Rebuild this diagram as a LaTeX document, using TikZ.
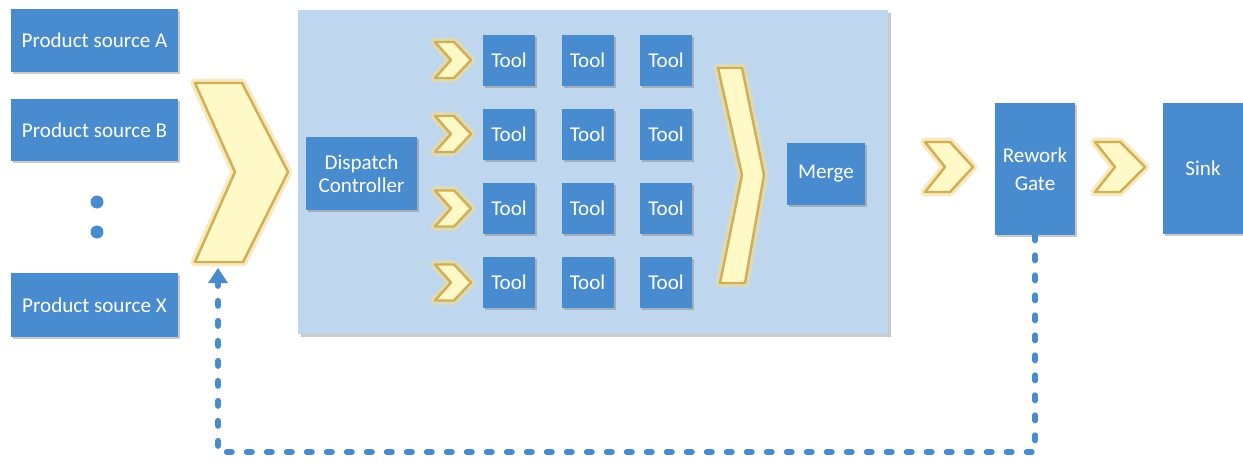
\documentclass[tikz,border=0pt]{standalone}
\usepackage{fontspec}
\setmainfont{Carlito}
\usetikzlibrary{shadows,arrows.meta}
\definecolor{boxblue}{RGB}{72,140,207}
\definecolor{panelblue}{RGB}{190,215,238}
\definecolor{chevfill}{RGB}{255,249,200}
\definecolor{chevedge}{RGB}{210,174,84}
\definecolor{chevglowc}{RGB}{240,220,150}
\newcommand\drawchev[1]{%
  \draw[chevglowstyle] #1;
  \draw[chevstyle] #1;}
\tikzset{
  box/.style={fill=boxblue, text=white, inner sep=0pt, align=center,
    font=\fontsize{12pt}{14pt}\selectfont,
    drop shadow={shadow xshift=0.04cm, shadow yshift=-0.04cm, opacity=0.35, fill=black!60}},
  chevstyle/.style={fill=chevfill, draw=chevedge, line width=1.4pt, line join=round},
  chevglowstyle/.style={draw=chevglowc, line width=5pt, line join=round, opacity=0.6},
  loopline/.style={draw=boxblue, line width=0.12cm, line cap=round,
    dash pattern=on 0.1cm off 0.3cm},
}
\begin{document}
\begin{tikzpicture}[x=0.02cm, y=-0.02cm]
\useasboundingbox (0,0) rectangle (1243,464);
% panel
\node[fill=panelblue, minimum width=590*0.02cm, minimum height=324*0.02cm, inner sep=0pt,
  drop shadow={shadow xshift=0.05cm, shadow yshift=-0.05cm, opacity=0.35, fill=black!60}]
  (panel) at (593,172) {};
% sources
\node[box, minimum width=167*0.02cm, minimum height=63*0.02cm] (srcA) at (94.5,40.5) {Product source A};
\node[box, minimum width=167*0.02cm, minimum height=62*0.02cm] (srcB) at (94.5,130) {Product source B};
\node[box, minimum width=167*0.02cm, minimum height=64*0.02cm] (srcX) at (94.5,305) {Product source X};
\node[circle, fill=boxblue, minimum size=0.26cm, inner sep=0pt] (dot1) at (97,202) {};
\node[circle, fill=boxblue, minimum size=0.26cm, inner sep=0pt] (dot2) at (97,232) {};
% big chevron
\drawchev{(195,83) -- (242,83) -- (288,172) -- (243,262) -- (195,262) -- (235,172) -- cycle}
\coordinate (bigchevbot) at (218,268);
% dispatch
\node[box, minimum width=111*0.02cm, minimum height=73*0.02cm,
  font=\fontsize{12pt}{13pt}\selectfont] (disp) at (361.5,173.5) {Dispatch\\Controller};
% small chevrons and tools
\foreach \r/\cy in {1/60,2/134,3/208.5,4/282.5}{
  \drawchev{(435,\cy-18) -- (454,\cy-18) -- (471,\cy) -- (454,\cy+18) -- (435,\cy+18) -- (451,\cy) -- cycle}
  \foreach \c/\cx in {1/509,2/587.5,3/666}{
    \node[box, minimum width=52*0.02cm, minimum height=51*0.02cm] (t\r\c) at (\cx,\cy) {Tool};
  }
}
% merge chevron
\drawchev{(718,68) -- (742,68) -- (764,175) -- (745,283) -- (720,283) -- (742,175) -- cycle}
\node[box, minimum width=78*0.02cm, minimum height=62*0.02cm] (merge) at (826,174) {Merge};
% after panel
\drawchev{(925,142) -- (950,142) -- (973,167) -- (950,192) -- (925,192) -- (945,167) -- cycle}
\node[box, minimum width=80*0.02cm, minimum height=132*0.02cm,
  font=\fontsize{12pt}{16pt}\selectfont] (rg) at (1035,169) {Rework\\Gate};
\drawchev{(1095,142) -- (1120,142) -- (1145,167) -- (1120,192) -- (1095,192) -- (1115,167) -- cycle}
\node[box, minimum width=80*0.02cm, minimum height=131*0.02cm] (sink) at (1203,168.5) {Sink};
% rework loop
\coordinate (loopcorner) at (1035,452);
\draw[loopline] (rg.south) -- (loopcorner) -| (bigchevbot);
\fill[boxblue] (bigchevbot) -- ++(-10,15) -- ++(20,0) -- cycle;
\end{tikzpicture}
\end{document}
